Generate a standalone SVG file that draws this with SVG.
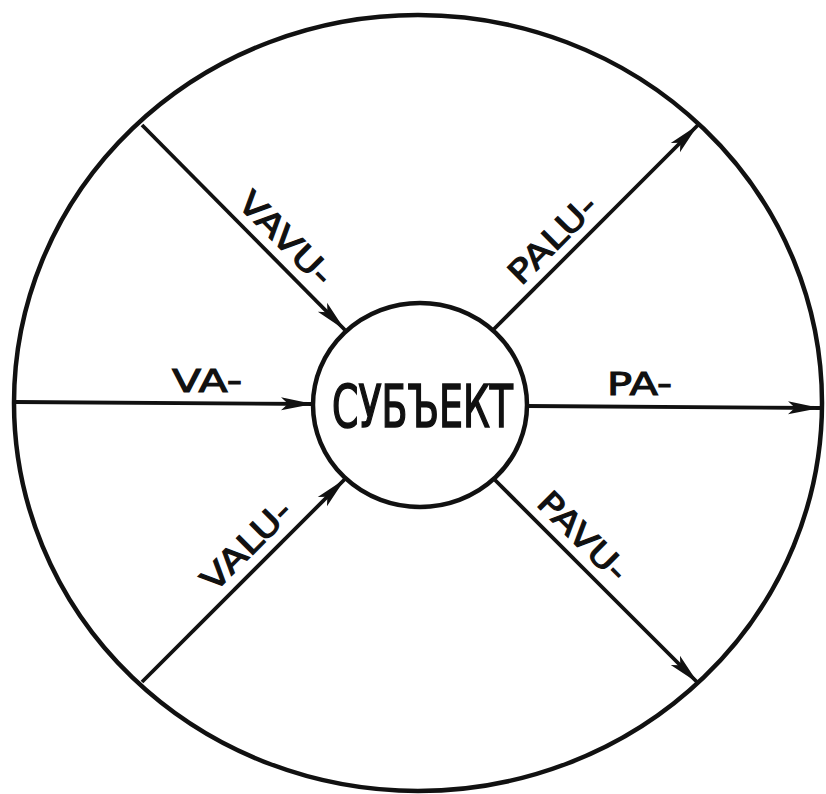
<svg xmlns="http://www.w3.org/2000/svg" width="826" height="794" viewBox="0 0 826 794">
<style>
.outline{fill:none;stroke:#111;stroke-width:4.5}
.conn{fill:none;stroke:#111;stroke-width:3.8;marker-end:url(#arr)}
.lbl{font-family:"DejaVu Sans","Liberation Sans",sans-serif;font-size:32px;fill:#111;stroke:#111;stroke-width:1.1;text-anchor:middle}
.title{font-family:"DejaVu Sans Condensed","Liberation Sans Narrow","DejaVu Sans",sans-serif;font-size:58px;fill:#111;stroke:#111;stroke-width:1.6;text-anchor:middle}
</style>
<defs>
<marker id="arr" markerUnits="userSpaceOnUse" markerWidth="36" markerHeight="16" refX="32" refY="8" orient="auto">
<path d="M0,1.5 L32,8 L0,14.5 L7,8 Z" fill="#111"/>
</marker>
</defs>
<rect width="826" height="794" fill="#fff"/>
<g id="outer">
<ellipse class="outline" cx="418" cy="403" rx="404" ry="388"/>
</g>
<g id="connectors">
<path class="conn" d="M142,125 L345,330"/>
<path class="conn" d="M493,330 L698,125"/>
<path class="conn" d="M142,682 L345,479"/>
<path class="conn" d="M495,480 L698,683"/>
<path class="conn" d="M15,402 L313,404"/>
<path class="conn" d="M527,406 L820,408"/>
</g>
<g id="labels">
<text class="lbl" transform="translate(270,254) rotate(45)" y="-11" textLength="118" lengthAdjust="spacingAndGlyphs">VAVU-</text>
<text class="lbl" transform="translate(568,255) rotate(-45)" y="-11" textLength="111" lengthAdjust="spacingAndGlyphs">PALU-</text>
<text class="lbl" transform="translate(262,561) rotate(-45)" y="-11" textLength="113" lengthAdjust="spacingAndGlyphs">VALU-</text>
<text class="lbl" transform="translate(567,552) rotate(45)" y="-11" textLength="112" lengthAdjust="spacingAndGlyphs">PAVU-</text>
<text class="lbl" x="207" y="392" font-size="34" textLength="70" lengthAdjust="spacingAndGlyphs">VA-</text>
<text class="lbl" x="639.5" y="395" font-size="31" textLength="65" lengthAdjust="spacingAndGlyphs">PA-</text>
</g>
<g id="subject">
<ellipse class="outline" cx="420" cy="405" rx="107" ry="102"/>
<text class="title" x="422.5" y="427" textLength="181" lengthAdjust="spacingAndGlyphs">СУБЪЕКТ</text>
</g>
</svg>
